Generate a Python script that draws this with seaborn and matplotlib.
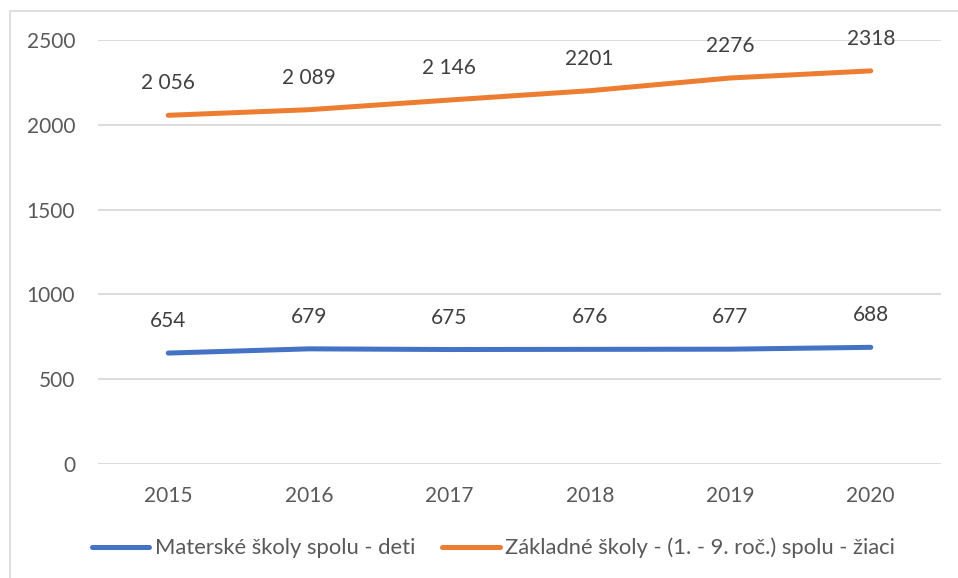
import matplotlib
matplotlib.use("Agg")
import matplotlib.pyplot as plt
import seaborn as sns
import pandas as pd
from matplotlib.patches import Rectangle

years = ["2015", "2016", "2017", "2018", "2019", "2020"]
materske = [654, 679, 675, 676, 677, 688]
zakladne = [2056, 2089, 2146, 2201, 2276, 2318]
materske_labels = ["654", "679", "675", "676", "677", "688"]
zakladne_labels = ["2 056", "2 089", "2 146", "2201", "2276", "2318"]
series_names = ["Materské školy spolu - deti", "Základné školy - (1. - 9. roč.) spolu - žiaci"]
yticks = [0, 500, 1000, 1500, 2000, 2500]

sns.set_theme(style="white")
plt.rcParams['font.family'] = ['Lato', 'DejaVu Sans']

df = pd.DataFrame({
    "x": list(range(len(years))) * 2,
    "value": materske + zakladne,
    "series": [series_names[0]] * len(years) + [series_names[1]] * len(years),
})

fig = plt.figure(figsize=(9.58, 5.78), dpi=100)
ax = fig.add_axes([98/958, 114/578, (941-98)/958, (464-40)/578])

palette = {series_names[0]: "#4472C4", series_names[1]: "#ED7D31"}
sns.lineplot(data=df, x="x", y="value", hue="series", palette=palette, ax=ax,
             linewidth=3.6, solid_capstyle="round", legend=True)

ax.set_xlim(-0.5, len(years) - 0.5)
ax.set_ylim(0, 2500)
ax.set_yticks(yticks)
ax.set_yticklabels([str(t) for t in yticks])
ax.set_xticks(range(len(years)))
ax.set_xticklabels(years)
ax.set_xlabel("")
ax.set_ylabel("")
for s in ax.spines.values():
    s.set_visible(False)
ax.yaxis.grid(True, color="#D9D9D9", linewidth=1.3)
ax.xaxis.grid(False)
ax.tick_params(axis="both", length=0, labelsize=15, colors="#595959")
ax.tick_params(axis="y", pad=16.5)
ax.tick_params(axis="x", pad=16)

tc = "#404040"
for i in range(len(years)):
    ax.annotate(materske_labels[i], (i, materske[i]), xytext=(0, 23), textcoords="offset points",
                ha="center", va="center", fontsize=15, color=tc)
    ax.annotate(zakladne_labels[i], (i, zakladne[i]), xytext=(0, 23), textcoords="offset points",
                ha="center", va="center", fontsize=15, color=tc)

handles, labels = ax.get_legend_handles_labels()
ax.get_legend().remove()
fig.legend(handles, labels, loc="center", bbox_to_anchor=(493.5/958, 1 - 548/578), ncol=2, frameon=False,
           fontsize=15.8, handlelength=2.6, handletextpad=0.25, columnspacing=1.25,
           labelcolor="#595959")

fig.patches.append(Rectangle((10/958, -0.01), 1.0, 1 - 11/578 + 0.01, transform=fig.transFigure,
                             fill=False, edgecolor="#D9D9D9", linewidth=1.2))

fig.savefig("out.png", dpi=100)
